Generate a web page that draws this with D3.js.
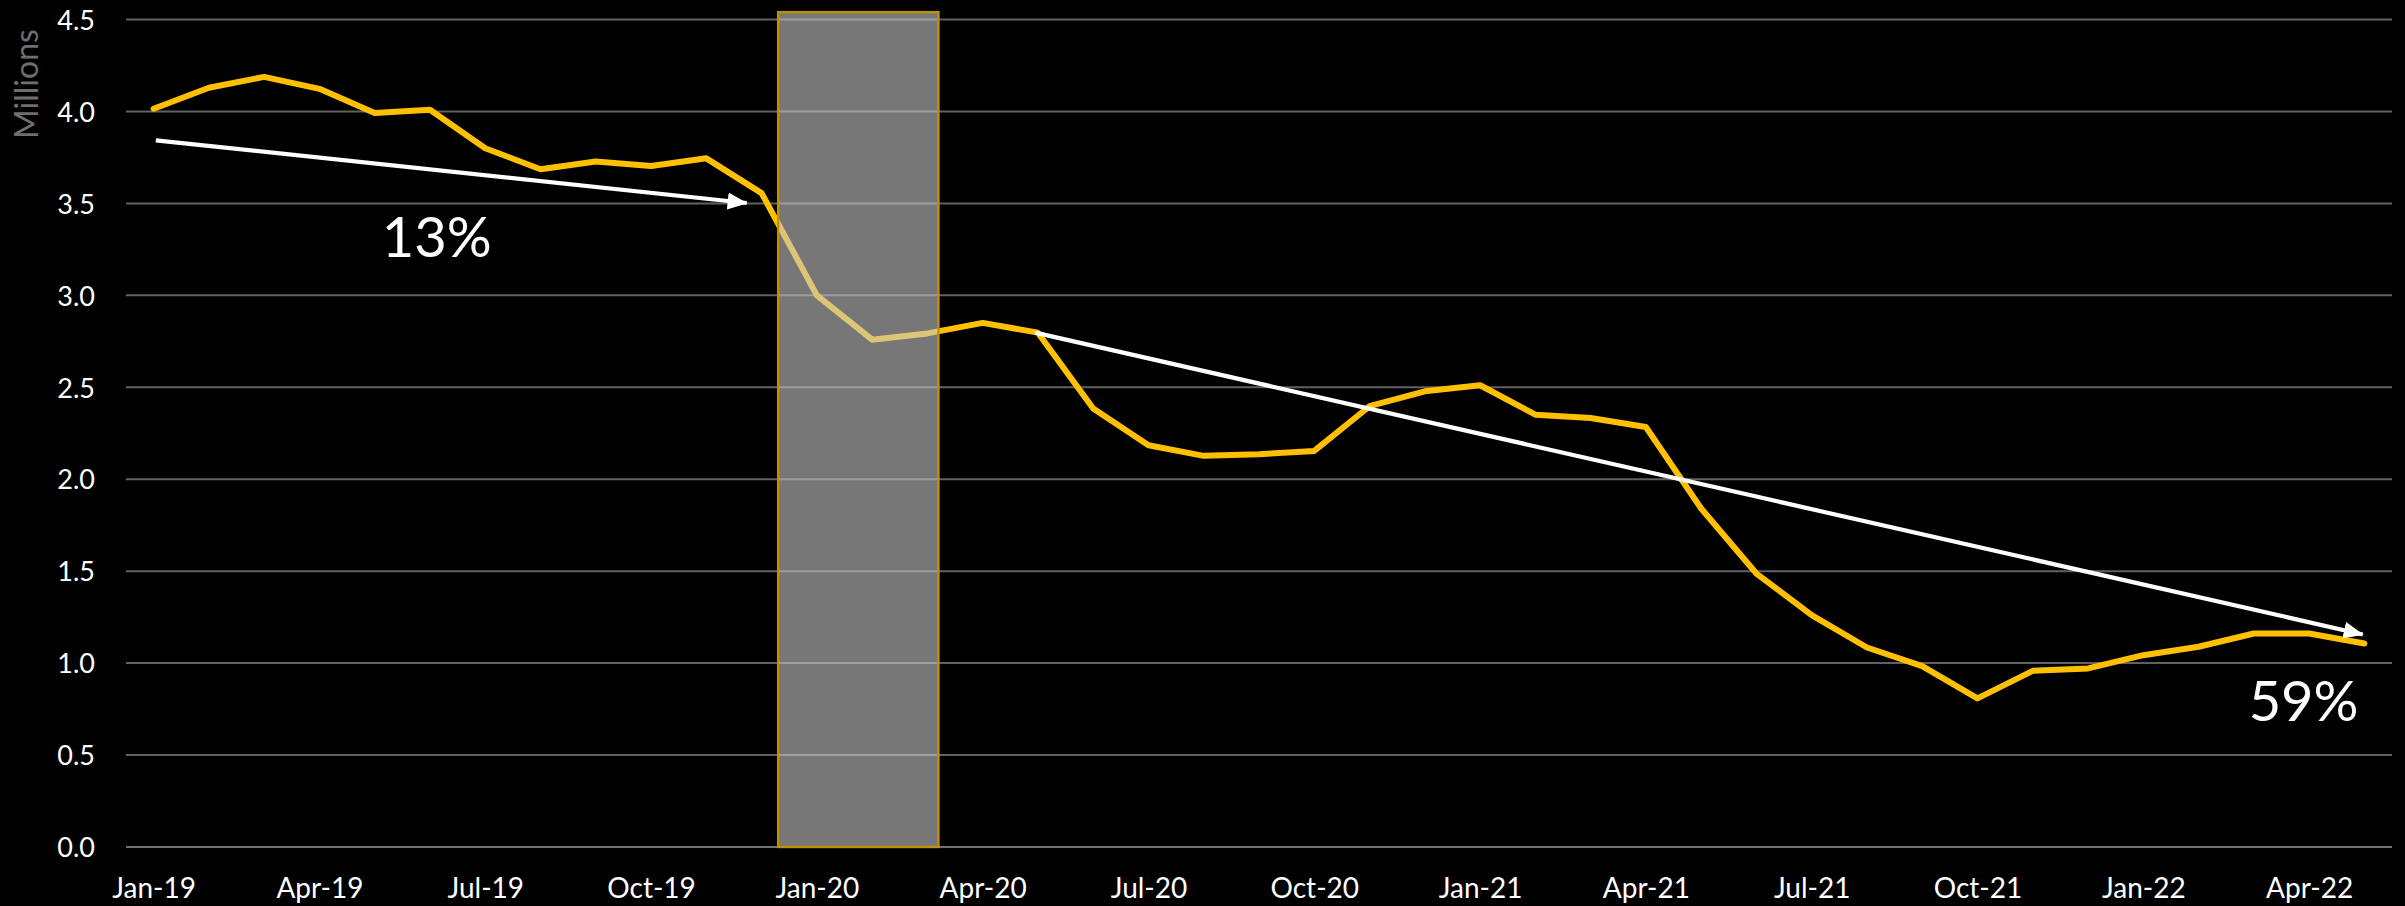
<!DOCTYPE html>
<html>
<head>
<meta charset="utf-8">
<script src="https://cdn.jsdelivr.net/npm/d3@7"></script>
<style>
  html, body { margin: 0; padding: 0; background: #000; }
  svg { display: block; }
  text { font-family: Lato, "Open Sans", sans-serif; }
</style>
</head>
<body>
<svg id="chart" width="2405" height="906"></svg>
<script>
const months = [
  "Jan-19","Feb-19","Mar-19","Apr-19","May-19","Jun-19","Jul-19","Aug-19","Sep-19","Oct-19","Nov-19","Dec-19",
  "Jan-20","Feb-20","Mar-20","Apr-20","May-20","Jun-20","Jul-20","Aug-20","Sep-20","Oct-20","Nov-20","Dec-20",
  "Jan-21","Feb-21","Mar-21","Apr-21","May-21","Jun-21","Jul-21","Aug-21","Sep-21","Oct-21","Nov-21","Dec-21",
  "Jan-22","Feb-22","Mar-22","Apr-22","May-22"
];
const values = [
  4.015, 4.129, 4.188, 4.123, 3.991, 4.009, 3.800, 3.686, 3.728, 3.703, 3.745, 3.556,
  3.000, 2.759, 2.793, 2.850, 2.797, 2.384, 2.185, 2.127, 2.136, 2.154, 2.397, 2.478,
  2.511, 2.351, 2.333, 2.284, 1.841, 1.487, 1.261, 1.085, 0.984, 0.808, 0.958, 0.971,
  1.043, 1.089, 1.161, 1.161, 1.107
];
const yTicks = [0, 0.5, 1.0, 1.5, 2.0, 2.5, 3.0, 3.5, 4.0, 4.5];
const xTickLabels = ["Jan-19","Apr-19","Jul-19","Oct-19","Jan-20","Apr-20","Jul-20","Oct-20",
  "Jan-21","Apr-21","Jul-21","Oct-21","Jan-22","Apr-22"];
// shaded period, in category-index units and value units
const shadeSpan = [11.3, 14.2];
const shadeTop = 4.54;
// trend arrows: [startIndex, startValue, endIndex, endValue]
const arrow1 = [0.04, 3.843, 10.73, 3.502];
const arrow2 = [15.95, 2.797, 39.97, 1.156];
const labels = [
  { text: "13%", idx: 5.12, value: 3.21 },
  { text: "59%", idx: 38.9, value: 0.685 }
];
const axisTitle = "Millions";

const svg = d3.select("#chart");
const W = 2405, H = 906;
const plotLeft = 126, plotRight = 2392, plotTop = 19.5, plotBottom = 847;

const x = d3.scalePoint().domain(months).range([plotLeft, plotRight]).padding(0.5);
const step = x.step();
const xi = i => x(months[0]) + i * step;
const y = d3.scaleLinear().domain([0, 4.5]).range([plotBottom, plotTop]);

svg.append("rect").attr("width", W).attr("height", H).attr("fill", "#000");

// gridlines
svg.append("g")
  .selectAll("line").data(yTicks).join("line")
  .attr("x1", plotLeft).attr("x2", plotRight)
  .attr("y1", d => y(d)).attr("y2", d => y(d))
  .attr("stroke", d => d === 0 ? "#707070" : "#616161")
  .attr("stroke-width", 2);

// y axis labels
const yAxis = d3.axisLeft(y).tickValues(yTicks).tickFormat(d3.format(".1f")).tickSize(0).tickPadding(0);
const yg = svg.append("g").attr("transform", `translate(95,0)`).call(yAxis);
yg.select(".domain").remove();
yg.selectAll("text").attr("fill", "#ffffff").style("font-size", "27px").style("font-family", "Lato, sans-serif")
  .attr("dy", "0.36em");

// x axis labels
const xAxis = d3.axisBottom(x).tickValues(xTickLabels).tickSize(0).tickPadding(0);
const xg = svg.append("g").attr("transform", `translate(0,${plotBottom})`).call(xAxis);
xg.select(".domain").remove();
xg.selectAll("text").attr("fill", "#ffffff").style("font-size", "28px").style("font-family", "Lato, sans-serif")
  .attr("y", 51).attr("dy", 0);

// axis title
svg.append("text")
  .attr("transform", `translate(38,84) rotate(-90)`)
  .attr("text-anchor", "middle")
  .attr("fill", "#6f6f6f")
  .style("font-size", "32px")
  .text(axisTitle);

// data line
const line = d3.line().x((d, i) => x(months[i])).y(d => y(d));
svg.append("path").datum(values)
  .attr("d", line)
  .attr("fill", "none")
  .attr("stroke", "#FFC000")
  .attr("stroke-width", 6)
  .attr("stroke-linejoin", "round")
  .attr("stroke-linecap", "round");

// shaded rect on top of line
svg.append("rect")
  .attr("x", xi(shadeSpan[0]))
  .attr("width", xi(shadeSpan[1]) - xi(shadeSpan[0]))
  .attr("y", y(shadeTop))
  .attr("height", y(0) - y(shadeTop))
  .attr("fill", "#c6c6c6").attr("fill-opacity", 0.6)
  .attr("stroke", "#BF9000").attr("stroke-width", 2.4);

// arrows
const defs = svg.append("defs");
defs.append("marker").attr("id", "arrowhead")
  .attr("markerUnits", "userSpaceOnUse")
  .attr("markerWidth", 20).attr("markerHeight", 17)
  .attr("viewBox", "0 0 20 17").attr("refX", 19).attr("refY", 8.5)
  .attr("orient", "auto")
  .append("path").attr("d", "M0,0 L20,8.5 L0,17 Z").attr("fill", "#ffffff");

[arrow1, arrow2].forEach(a => {
  svg.append("line")
    .attr("x1", xi(a[0])).attr("y1", y(a[1]))
    .attr("x2", xi(a[2])).attr("y2", y(a[3]))
    .attr("stroke", "#ffffff").attr("stroke-width", 4.2)
    .attr("marker-end", "url(#arrowhead)");
});

// percentage labels
svg.append("g").selectAll("text").data(labels).join("text")
  .attr("x", d => xi(d.idx)).attr("y", d => y(d.value))
  .attr("text-anchor", "middle")
  .attr("fill", "#ffffff")
  .style("font-size", "56px")
  .text(d => d.text);
</script>
</body>
</html>
